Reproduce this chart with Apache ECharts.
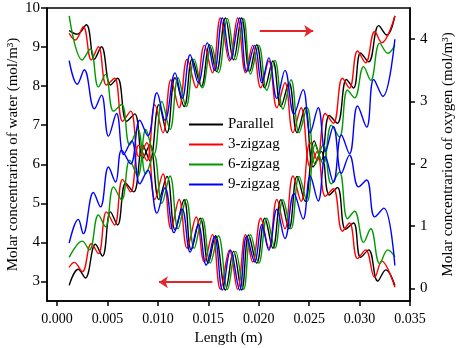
<!DOCTYPE html>
<html lang="en">
<head>
<meta charset="UTF-8">
<title>Molar concentration</title>
<script src="https://cdn.jsdelivr.net/npm/echarts@6/dist/echarts.min.js"></script>
<style>
  html, body { margin: 0; padding: 0; background: #fff; }
  #box { width: 457px; height: 348px; }
</style>
</head>
<body>
<div id="box"></div>
<script>
    // tick labels
    var xTicks = [0, 0.005, 0.010, 0.015, 0.020, 0.025, 0.030, 0.035];
    var waterTicks = [3, 4, 5, 6, 7, 8, 9, 10];
    var oxygenTicks = [0, 1, 2, 3, 4];
    var names = ['Parallel', '3-zigzag', '6-zigzag', '9-zigzag'];

    // water (left axis), [length, concentration]
    var waterParallel = [[0.0012, 9.42], [0.0020, 9.33], [0.0029, 9.57], [0.0037, 8.69], [0.0044, 9.01], [0.0053, 8.03], [0.0060, 8.20], [0.0069, 7.10], [0.0077, 7.29], [0.0085, 6.15], [0.0092, 6.50], [0.0101, 5.10], [0.0109, 5.69], [0.0117, 4.32], [0.0126, 5.09], [0.0133, 3.81], [0.0142, 4.62], [0.0150, 3.47], [0.0157, 4.17], [0.0167, 2.78], [0.0175, 3.77], [0.0183, 2.78], [0.0190, 4.19], [0.0198, 3.47], [0.0206, 4.62], [0.0214, 3.85], [0.0222, 5.09], [0.0230, 4.35], [0.0238, 5.69], [0.0246, 5.05], [0.0255, 6.60], [0.0262, 6.10], [0.0270, 7.25], [0.0278, 7.05], [0.0287, 8.17], [0.0294, 7.95], [0.0301, 8.85], [0.0309, 8.62], [0.0319, 9.55], [0.0327, 9.31], [0.0335, 9.80]];
    var water3 = [[0.0012, 9.35], [0.0018, 9.18], [0.0026, 9.52], [0.0034, 8.67], [0.0041, 9.01], [0.0049, 8.03], [0.0057, 8.20], [0.0065, 7.10], [0.0073, 7.36], [0.0081, 6.20], [0.0089, 6.55], [0.0097, 5.10], [0.0105, 5.75], [0.0113, 4.35], [0.0121, 5.10], [0.0129, 3.85], [0.0138, 4.65], [0.0146, 3.50], [0.0154, 4.20], [0.0162, 2.80], [0.0171, 3.80], [0.0179, 2.80], [0.0187, 4.20], [0.0194, 3.50], [0.0202, 4.62], [0.0210, 3.85], [0.0218, 5.10], [0.0226, 4.35], [0.0234, 5.70], [0.0242, 5.05], [0.0251, 6.55], [0.0258, 6.10], [0.0266, 7.30], [0.0274, 7.05], [0.0283, 8.20], [0.0290, 7.95], [0.0298, 8.90], [0.0306, 8.60], [0.0315, 9.40], [0.0322, 9.11], [0.0335, 9.80]];
    var water6 = [[0.0012, 9.80], [0.0025, 8.67], [0.0033, 8.95], [0.0041, 7.98], [0.0048, 8.30], [0.0056, 7.36], [0.0064, 7.53], [0.0072, 6.50], [0.0080, 6.90], [0.0088, 5.75], [0.0096, 6.25], [0.0104, 5.00], [0.0112, 5.70], [0.0120, 4.35], [0.0128, 5.10], [0.0136, 3.85], [0.0144, 4.62], [0.0152, 3.47], [0.0160, 4.17], [0.0169, 2.80], [0.0177, 3.77], [0.0185, 2.80], [0.0192, 4.20], [0.0200, 3.47], [0.0208, 4.62], [0.0216, 3.85], [0.0224, 5.09], [0.0232, 4.35], [0.0240, 5.69], [0.0248, 5.05], [0.0256, 6.50], [0.0264, 6.00], [0.0272, 7.00], [0.0280, 6.70], [0.0288, 7.90], [0.0295, 7.70], [0.0304, 8.50], [0.0311, 8.15], [0.0320, 9.10], [0.0328, 8.84], [0.0335, 9.05]];
    var water9 = [[0.0012, 8.65], [0.0020, 8.05], [0.0027, 8.42], [0.0037, 7.42], [0.0044, 7.77], [0.0051, 6.72], [0.0059, 7.30], [0.0066, 6.25], [0.0074, 6.60], [0.0082, 5.50], [0.0090, 5.85], [0.0099, 4.75], [0.0107, 5.40], [0.0116, 4.25], [0.0124, 4.85], [0.0132, 3.75], [0.0140, 4.45], [0.0148, 3.42], [0.0156, 4.15], [0.0164, 2.78], [0.0172, 3.80], [0.0181, 2.78], [0.0188, 4.15], [0.0196, 3.50], [0.0203, 4.45], [0.0210, 3.80], [0.0218, 4.85], [0.0226, 4.10], [0.0235, 5.25], [0.0244, 4.60], [0.0251, 5.70], [0.0259, 5.06], [0.0266, 6.20], [0.0274, 5.54], [0.0282, 6.75], [0.0290, 6.27], [0.0298, 7.49], [0.0307, 6.95], [0.0314, 8.17], [0.0323, 7.74], [0.0335, 9.20]];

    // oxygen (right axis)
    var oxyParallel = [[0.0012, 0.05], [0.0021, 0.31], [0.0028, 0.17], [0.0038, 0.71], [0.0045, 0.52], [0.0053, 1.23], [0.0060, 1.02], [0.0068, 1.69], [0.0076, 1.55], [0.0085, 2.30], [0.0092, 2.05], [0.0101, 2.95], [0.0109, 2.50], [0.0117, 3.38], [0.0126, 2.92], [0.0134, 3.68], [0.0143, 3.24], [0.0151, 3.91], [0.0158, 3.48], [0.0167, 4.34], [0.0175, 3.67], [0.0183, 4.34], [0.0191, 3.48], [0.0198, 3.91], [0.0206, 3.22], [0.0214, 3.65], [0.0222, 2.92], [0.0230, 3.30], [0.0238, 2.50], [0.0246, 2.90], [0.0254, 1.95], [0.0262, 2.20], [0.0270, 1.50], [0.0278, 1.62], [0.0286, 0.95], [0.0294, 1.05], [0.0301, 0.50], [0.0309, 0.62], [0.0318, 0.12], [0.0326, 0.30], [0.0335, 0.05]];
    var oxy3 = [[0.0012, 0.34], [0.0017, 0.42], [0.0025, 0.27], [0.0034, 0.72], [0.0041, 0.56], [0.0049, 1.23], [0.0057, 1.02], [0.0065, 1.75], [0.0073, 1.55], [0.0081, 2.30], [0.0089, 2.05], [0.0097, 2.95], [0.0105, 2.50], [0.0113, 3.35], [0.0121, 2.90], [0.0129, 3.68], [0.0138, 3.22], [0.0146, 3.90], [0.0154, 3.46], [0.0162, 4.34], [0.0171, 3.65], [0.0179, 4.34], [0.0187, 3.46], [0.0194, 3.90], [0.0202, 3.22], [0.0210, 3.65], [0.0218, 2.90], [0.0226, 3.30], [0.0234, 2.50], [0.0242, 2.90], [0.0251, 1.95], [0.0258, 2.20], [0.0266, 1.48], [0.0274, 1.60], [0.0283, 0.92], [0.0290, 1.05], [0.0298, 0.48], [0.0306, 0.62], [0.0315, 0.18], [0.0322, 0.44], [0.0335, 0.02]];
    var oxy6 = [[0.0012, 0.50], [0.0025, 0.76], [0.0032, 0.62], [0.0041, 1.18], [0.0048, 0.99], [0.0056, 1.63], [0.0064, 1.42], [0.0072, 2.06], [0.0080, 1.80], [0.0088, 2.55], [0.0096, 2.15], [0.0104, 3.00], [0.0112, 2.55], [0.0120, 3.38], [0.0128, 2.92], [0.0136, 3.68], [0.0144, 3.22], [0.0153, 3.90], [0.0160, 3.46], [0.0169, 4.33], [0.0177, 3.67], [0.0185, 4.33], [0.0192, 3.44], [0.0200, 3.90], [0.0208, 3.18], [0.0216, 3.66], [0.0224, 2.88], [0.0232, 3.35], [0.0240, 2.50], [0.0248, 2.90], [0.0256, 1.99], [0.0264, 2.31], [0.0272, 1.68], [0.0280, 1.87], [0.0288, 1.12], [0.0295, 1.24], [0.0304, 0.74], [0.0311, 0.96], [0.0320, 0.40], [0.0328, 0.62], [0.0335, 0.51]];
    var oxy9 = [[0.0012, 0.73], [0.0021, 1.11], [0.0026, 0.88], [0.0036, 1.54], [0.0043, 1.31], [0.0051, 1.95], [0.0058, 1.71], [0.0064, 2.22], [0.0073, 2.00], [0.0082, 2.70], [0.0090, 2.45], [0.0099, 3.14], [0.0107, 2.70], [0.0117, 3.46], [0.0124, 3.05], [0.0132, 3.75], [0.0140, 3.30], [0.0149, 3.94], [0.0156, 3.50], [0.0164, 4.34], [0.0172, 3.67], [0.0181, 4.34], [0.0188, 3.48], [0.0196, 3.90], [0.0203, 3.30], [0.0210, 3.70], [0.0218, 3.05], [0.0226, 3.50], [0.0235, 2.80], [0.0244, 3.19], [0.0251, 2.50], [0.0259, 2.90], [0.0266, 2.20], [0.0274, 2.60], [0.0282, 1.85], [0.0290, 2.14], [0.0299, 1.63], [0.0307, 1.74], [0.0315, 1.15], [0.0324, 1.29], [0.0335, 0.37]];

    // arrows: [start, end] in data units
    var arrowWater = [[0.0154, 2.98], [0.0101, 2.98]];
    var arrowOxygen = [[0.0201, 4.13], [0.0254, 4.13]];

    var colors = ['#000000', '#ff0000', '#009a00', '#0000ff'];
    var waterData = [waterParallel, water3, water6, water9];
    var oxyData = [oxyParallel, oxy3, oxy6, oxy9];
    var font = 'Liberation Serif';

    function arrowLine(a) {
        return {
            silent: true,
            symbol: ['none', 'arrow'],
            symbolSize: 9,
            label: { show: false },
            itemStyle: { color: '#e4262b' },
            lineStyle: { color: '#e4262b', width: 2, type: 'solid' },
            emphasis: { disabled: true },
            data: [[{ coord: a[0] }, { coord: a[1] }]]
        };
    }

    var series = [];
    names.forEach(function (n, i) {
        series.push({
            name: n, type: 'line', yAxisIndex: 0, data: waterData[i],
            smooth: 0.4, symbol: 'none', color: colors[i],
            lineStyle: { width: 1.4, color: colors[i] },
            markLine: i === 0 ? arrowLine(arrowWater) : undefined
        });
        series.push({
            name: n, type: 'line', yAxisIndex: 1, data: oxyData[i],
            smooth: 0.4, symbol: 'none', color: colors[i],
            lineStyle: { width: 1.4, color: colors[i] },
            markLine: i === 0 ? arrowLine(arrowOxygen) : undefined
        });
    });

    var box = echarts.init(document.getElementById('box'));
    var option = {
        animation: false,
        backgroundColor: '#fff',
        textStyle: { fontFamily: font },
        grid: {
            left: 47, right: 47, top: 8, bottom: 47, containLabel: false, outerBoundsMode: 'none',
            show: true, borderColor: '#000', borderWidth: 1.5
        },
        legend: {
            data: names, orient: 'vertical', left: 188, top: 117,
            itemWidth: 34, itemHeight: 14, itemGap: 5, padding: 0,
            itemStyle: { opacity: 0 },
            textStyle: { fontFamily: font, fontSize: 15, color: '#000' }
        },
        xAxis: {
            type: 'value', min: -0.001, max: 0.035,
            name: 'Length (m)', nameLocation: 'middle', nameGap: 30,
            nameTextStyle: { fontFamily: font, fontSize: 15, color: '#000' },
            splitLine: { show: false },
            axisLine: { show: true, onZero: false, lineStyle: { color: '#000', width: 1.5 } },
            axisTick: { customValues: xTicks, length: 5, lineStyle: { color: '#000', width: 1.5 } },
            axisLabel: {
                customValues: xTicks, margin: 11, fontSize: 14, color: '#000', fontFamily: font,
                formatter: function (v) { return v.toFixed(3); }
            }
        },
        yAxis: [
            {
                type: 'value', min: 2.5, max: 10, position: 'left',
                name: 'Molar concentrarion of water (mol/m³)', nameLocation: 'middle', nameGap: 26,
                nameMoveOverlap: false,
                nameTextStyle: { fontFamily: font, fontSize: 15, color: '#000' },
                splitLine: { show: false },
                axisLine: { show: true, onZero: false, lineStyle: { color: '#000', width: 1.5 } },
                axisTick: { customValues: waterTicks, length: 6, lineStyle: { color: '#000', width: 1.5 } },
                axisLabel: { customValues: waterTicks, margin: 7, fontSize: 15, color: '#000', fontFamily: font }
            },
            {
                type: 'value', min: -0.2, max: 4.5, position: 'right',
                name: 'Molar concentrarion of oxygen (mol/m³)', nameLocation: 'middle', nameGap: 31, nameRotate: 90,
                nameMoveOverlap: false,
                nameTextStyle: { fontFamily: font, fontSize: 15, color: '#000' },
                splitLine: { show: false },
                axisLine: { show: true, onZero: false, lineStyle: { color: '#000', width: 1.5 } },
                axisTick: { customValues: oxygenTicks, length: 5, lineStyle: { color: '#000', width: 1.5 } },
                axisLabel: { customValues: oxygenTicks, margin: 10, fontSize: 15, color: '#000', fontFamily: font }
            }
        ],
        series: series
    };
    box.setOption(option);
</script>
</body>
</html>
